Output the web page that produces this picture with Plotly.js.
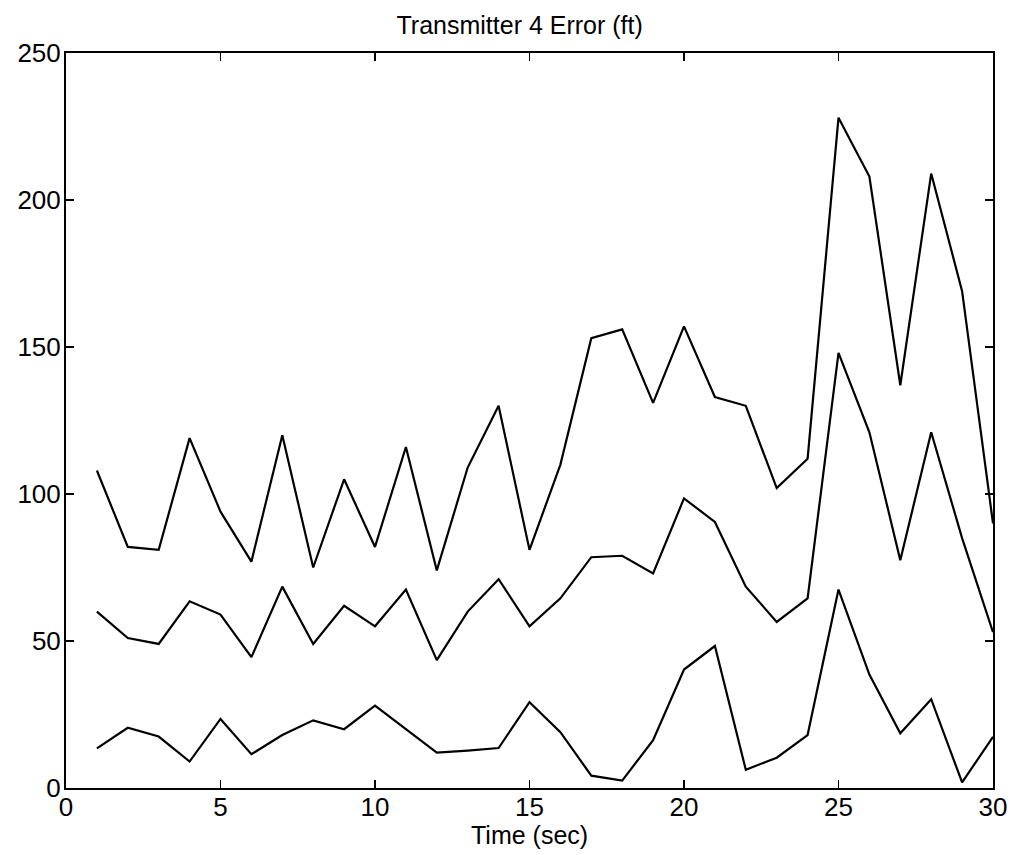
<!DOCTYPE html>
<html>
<head>
<meta charset="utf-8">
<script src="https://cdn.plot.ly/plotly-3.0.1.min.js"></script>
<style>
html,body{margin:0;padding:0;background:#fff;}
#chart{width:1013px;height:855px;}
</style>
</head>
<body>
<div id="chart"></div>
<script>
const timeSec = [1,2,3,4,5,6,7,8,9,10,11,12,13,14,15,16,17,18,19,20,21,22,23,24,25,26,27,28,29,30];
const upperError = [108,82,81,119,94,77,120,75,105,82,116,74,109,130,81,110,153,156,131,157,133,130,102,112,228,208,137,209,169,90];
const middleError = [60,51,49,63.5,59,44.5,68.5,49,62,55,67.5,43.5,60,71,55,64.5,78.5,79,73,98.5,90.5,68.5,56.5,64.5,148,121,77.5,121,85,53];
const lowerError = [13.5,20.5,17.5,9,23.5,11.5,18,23,20,28,20,12,12.7,13.6,29.2,19,4.2,2.5,16.3,40.3,48.3,6.2,10.3,18,67.5,38.6,18.6,30.2,1.9,17.4];
const xTicks = [0,5,10,15,20,25,30];
const yTicks = [0,50,100,150,200,250];

const lineStyle = {color:'#000', width:2.2};
const traces = [upperError, middleError, lowerError].map(ys => ({
  x: timeSec, y: ys, type:'scatter', mode:'lines', line: lineStyle, hoverinfo:'skip'
}));

const fam = '"Liberation Sans", Arial, sans-serif';
const tickFont = {family:fam, size:26, color:'#000'};
const titleFont = {family:fam, size:25, color:'#000'};
const axisCommon = {
  showgrid:false, zeroline:false, showline:true, linecolor:'#000', linewidth:2,
  mirror:'ticks', ticks:'inside', ticklen:8, tickwidth:1.5, tickcolor:'#000',
  tickfont: tickFont, tickmode:'array'
};

const layout = {
  width:1013, height:855,
  margin:{l:66, r:20, t:53, b:67},
  paper_bgcolor:'#fff', plot_bgcolor:'#fff',
  font: tickFont,
  showlegend:false,
  title:{text:'Transmitter 4 Error (ft)', font:titleFont, x:0.513, xanchor:'center', y:0.971, yanchor:'middle'},
  xaxis: Object.assign({}, axisCommon, {
    range:[0,30], tickvals:xTicks, ticktext:xTicks.map(String), ticklabelstandoff:-5
  }),
  yaxis: Object.assign({}, axisCommon, {
    range:[0,250], tickvals:yTicks, ticktext:yTicks.map(String), ticklabelstandoff:-2
  }),
  annotations:[{
    text:'Time (sec)', font:titleFont, showarrow:false,
    xref:'paper', yref:'paper', x:0.5, y:-0.064, xanchor:'center', yanchor:'middle'
  }]
};

Plotly.newPlot('chart', traces, layout, {displayModeBar:false, staticPlot:true});
</script>
</body>
</html>
